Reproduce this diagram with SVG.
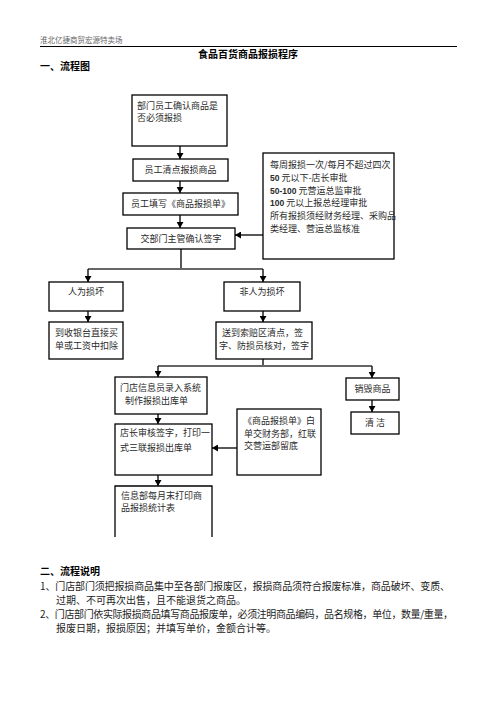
<svg xmlns="http://www.w3.org/2000/svg" width="496" height="702" viewBox="0 0 496 702">
<style>
text{font-family:"Noto Sans CJK SC","Noto Sans CJK JP",sans-serif;fill:#2a2a2a;}
.bx{fill:#fff;stroke:#000;stroke-width:1.3;}
.t9{font-size:9px;}
.c{text-anchor:middle;}
.ln{fill:none;stroke:#111;stroke-width:1.4;}
.hl{fill:none;stroke:#666;stroke-width:1.8;}
.num{font-family:"Liberation Sans",sans-serif;font-weight:bold;font-size:8.5px;}
.b{font-weight:bold;fill:#000;}
.p{font-size:10px;fill:#222;}
</style>
<defs>
<marker id="ah" markerUnits="userSpaceOnUse" markerWidth="6" markerHeight="7" viewBox="0 0 6 7" refX="6" refY="3.5" orient="auto">
<path d="M0,0 L6,3.5 L0,7 Z" fill="#000"/>
</marker>
</defs>
<rect width="496" height="702" fill="#fff"/>
<g id="header">
<text x="40" y="43" style="font-size:7.5px;fill:#666">淮北亿捷商贸宏源特卖场</text>
<line x1="40" y1="46.5" x2="457" y2="46.5" stroke="#000" stroke-width="1"/>
<text x="248" y="58" class="c b" style="font-size:10px">食品百货商品报损程序</text>
<text x="40" y="70" class="b" style="font-size:10px">一、流程图</text>
</g>
<g id="connectors">
<line class="ln" x1="180" y1="146" x2="180" y2="159" marker-end="url(#ah)"/>
<line class="ln" x1="180" y1="181" x2="180" y2="193" marker-end="url(#ah)"/>
<line class="ln" x1="180" y1="215" x2="180" y2="228" marker-end="url(#ah)"/>
<line class="ln" x1="263" y1="235" x2="235" y2="235" marker-end="url(#ah)"/>
<line class="ln" x1="181" y1="249" x2="181" y2="269"/>
<line class="hl" x1="88" y1="269" x2="263" y2="269"/>
<line class="ln" x1="88" y1="269" x2="88" y2="282" marker-end="url(#ah)"/>
<line class="ln" x1="263" y1="269" x2="263" y2="282" marker-end="url(#ah)"/>
<line class="ln" x1="88" y1="311" x2="88" y2="322" marker-end="url(#ah)"/>
<line class="ln" x1="263" y1="311" x2="263" y2="322" marker-end="url(#ah)"/>
<line class="ln" x1="263" y1="359" x2="263" y2="366"/>
<line class="hl" x1="158" y1="366" x2="372" y2="366"/>
<line class="ln" x1="158" y1="366" x2="158" y2="377" marker-end="url(#ah)"/>
<line class="ln" x1="372" y1="366" x2="372" y2="378" marker-end="url(#ah)"/>
<line class="ln" x1="158" y1="414" x2="158" y2="424" marker-end="url(#ah)"/>
<line class="ln" x1="372" y1="400" x2="372" y2="412" marker-end="url(#ah)"/>
<line class="ln" x1="237" y1="448" x2="212" y2="448" marker-end="url(#ah)"/>
<line class="ln" x1="158" y1="475" x2="158" y2="486" marker-end="url(#ah)"/>
</g>
<g id="n1"><rect class="bx" x="132" y="95" width="95" height="51"/>
<text class="t9" x="137" y="109">部门员工确认商品是</text><text class="t9" x="137" y="121">否必须报损</text></g>
<g id="n2"><rect class="bx" x="133" y="159" width="95" height="22"/>
<text class="t9 c" x="180.5" y="173">员工清点报损商品</text></g>
<g id="n3"><rect class="bx" x="123" y="193" width="115" height="22"/>
<text class="t9 c" x="180.5" y="207">员工填写《商品报损单》</text></g>
<g id="n4"><rect class="bx" x="127" y="228" width="108" height="21"/>
<text class="t9 c" x="181" y="241.5">交部门主管确认签字</text></g>
<g id="note"><rect class="bx" x="263" y="153" width="131" height="106"/>
<text class="t9" x="270" y="167.5">每周报损一次/每月不超过四次</text>
<text class="t9" x="270" y="180.5"><tspan class="num">50</tspan> 元以下-店长审批</text>
<text class="t9" x="270" y="193.5"><tspan class="num">50-100</tspan> 元营运总监审批</text>
<text class="t9" x="270" y="206"><tspan class="num">100</tspan> 元以上报总经理审批</text>
<text class="t9" x="270" y="219">所有报损须经财务经理、采购品</text>
<text class="t9" x="270" y="231.5">类经理、营运总监核准</text></g>
<g id="n5"><rect class="bx" x="49" y="282" width="74" height="29"/>
<text class="t9 c" x="86" y="295">人为损坏</text></g>
<g id="n6"><rect class="bx" x="224" y="282" width="76" height="29"/>
<text class="t9 c" x="262" y="295">非人为损坏</text></g>
<g id="n7"><rect class="bx" x="49" y="322" width="74" height="37"/>
<text class="t9" x="55" y="335.5">到收银台直接买</text><text class="t9" x="55" y="348.5">单或工资中扣除</text></g>
<g id="n8"><rect class="bx" x="216" y="322" width="96" height="37"/>
<text class="t9" x="222" y="335.5">送到索赔区清点，签</text><text class="t9" x="219" y="348.5">字、防损员核对，签字</text></g>
<g id="n9"><rect class="bx" x="115" y="377" width="92" height="37"/>
<text class="t9" x="120" y="390.5">门店信息员录入系统</text><text class="t9" x="125" y="403.5">制作报损出库单</text></g>
<g id="n10"><rect class="bx" x="346" y="378" width="53" height="22"/>
<text class="t9 c" x="372.5" y="392">销毁商品</text></g>
<g id="n11"><rect class="bx" x="351" y="412" width="48" height="22"/>
<text class="t9 c" x="375" y="426">清 洁</text></g>
<g id="n12"><rect class="bx" x="115" y="424" width="97" height="51"/>
<text class="t9" x="120" y="435.5">店长审核签字，打印一</text><text class="t9" x="120" y="450.5">式三联报损出库单</text></g>
<g id="n13"><rect class="bx" x="237" y="409" width="84" height="66"/>
<text class="t9" x="243" y="423.5">《商品报损单》白</text><text class="t9" x="244" y="436.5">单交财务部，红联</text><text class="t9" x="244" y="448.5">交营运部留底</text></g>
<g id="n14"><path d="M115,537 V486 H212 V537" fill="#fff" stroke="#000" stroke-width="1.3"/>
<text class="t9" x="121" y="498.5">信息部每月末打印商</text><text class="t9" x="121" y="511">品报损统计表</text></g>
<g id="notes">
<text x="40" y="575" class="b" style="font-size:10px">二、流程说明</text>
<text class="p" x="40" y="590" textLength="410" lengthAdjust="spacing">1、门店部门须把报损商品集中至各部门报废区，报损商品须符合报废标准，商品破坏、变质、</text>
<text class="p" x="56" y="604">过期、不可再次出售，且不能退货之商品。</text>
<text class="p" x="40" y="618" textLength="413" lengthAdjust="spacing">2、门店部门依实际报损商品填写商品报废单，必须注明商品编码，品名规格，单位，数量/重量，</text>
<text class="p" x="56" y="632">报废日期，报损原因；并填写单价，金额合计等。</text>
</g>
</svg>
